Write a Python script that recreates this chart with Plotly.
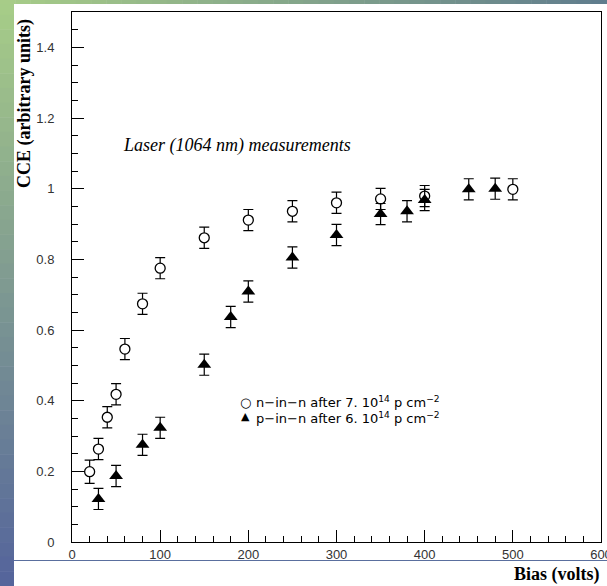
import plotly.graph_objects as go

# ---- data ----
nn_bias = [20, 30, 40, 50, 60, 80, 100, 150, 200, 250, 300, 350, 400, 500]
nn_cce = [0.199, 0.263, 0.353, 0.418, 0.546, 0.674, 0.775, 0.861, 0.911, 0.936, 0.960, 0.971, 0.979, 0.998]
nn_err = [0.033, 0.03, 0.03, 0.03, 0.03, 0.03, 0.03, 0.03, 0.03, 0.03, 0.03, 0.03, 0.03, 0.03]

pn_bias = [30, 50, 80, 100, 150, 180, 200, 250, 300, 350, 380, 400, 450, 480]
pn_cce = [0.122, 0.187, 0.275, 0.323, 0.502, 0.637, 0.709, 0.805, 0.869, 0.928, 0.936, 0.968, 0.998, 1.0]
pn_err = [0.03, 0.03, 0.03, 0.03, 0.03, 0.03, 0.03, 0.03, 0.03, 0.03, 0.03, 0.03, 0.03, 0.03]

x_ticks = [0, 100, 200, 300, 400, 500, 600]
y_ticks = [0, 0.2, 0.4, 0.6, 0.8, 1, 1.2, 1.4]
y_tick_labels = ["0", "0.2", "0.4", "0.6", "0.8", "1", "1.2", "1.4"]

legend_labels = [
    "n\u2212in\u2212n after 7. 10<sup>14</sup> p cm<sup>\u22122</sup>",
    "p\u2212in\u2212n after 6. 10<sup>14</sup> p cm<sup>\u22122</sup>",
]

# ---- geometry ----
W, H = 607, 586
L, R, T, B = 72, 601, 12, 542


def px(x):
    return (x - L) / (R - L)


def py(y):
    return (B - y) / (B - T)


fig = go.Figure()
fig.add_trace(go.Scatter(
    x=nn_bias, y=nn_cce, mode="markers",
    error_y=dict(type="data", array=nn_err, color="black", thickness=1.2, width=5),
    marker=dict(symbol="circle", size=10, color="white", line=dict(color="black", width=1.3)),
    showlegend=False,
))
fig.add_trace(go.Scatter(
    x=pn_bias, y=pn_cce, mode="markers",
    error_y=dict(type="data", array=pn_err, color="black", thickness=1.2, width=5),
    marker=dict(symbol="triangle-up", size=12, color="black", line=dict(width=0)),
    showlegend=False,
))

shapes = []
# left gradient strip
N = 40
top_c = (168, 206, 136)
bot_c = (84, 100, 156)
for i in range(N):
    y0 = H * i / N
    y1 = H * (i + 1) / N + 0.5
    t = (i + 0.5) / N
    c = tuple(int(top_c[k] + (bot_c[k] - top_c[k]) * t) for k in range(3))
    shapes.append(dict(type="rect", xref="paper", yref="paper",
                       x0=px(0), x1=px(14), y0=py(y0), y1=py(y1),
                       fillcolor="rgb(%d,%d,%d)" % c, line=dict(width=0), layer="below"))
# top gradient strip
left_c = (168, 206, 136)
right_c = (96, 124, 142)
for i in range(N):
    x0 = W * i / N
    x1 = W * (i + 1) / N + 0.5
    t = (i + 0.5) / N
    c = tuple(int(left_c[k] + (right_c[k] - left_c[k]) * t) for k in range(3))
    shapes.append(dict(type="rect", xref="paper", yref="paper",
                       x0=px(x0), x1=px(x1), y0=py(0), y1=py(4),
                       fillcolor="rgb(%d,%d,%d)" % c, line=dict(width=0), layer="below"))
# thin blue line near bottom
shapes.append(dict(type="line", xref="paper", yref="paper",
                   x0=px(14), x1=px(W), y0=py(560.5), y1=py(560.5),
                   line=dict(color="#5a6f9e", width=1), layer="above"))

annotations = [
    dict(text="<i>Laser (1064 nm) measurements</i>", xref="paper", yref="paper",
         x=px(237), y=py(145), showarrow=False, xanchor="center", yanchor="middle",
         font=dict(family="Liberation Serif", size=18, color="black")),
    dict(text="<b>CCE (arbitrary units)</b>", xref="paper", yref="paper",
         x=px(25), y=py(104), showarrow=False, textangle=-90,
         xanchor="center", yanchor="middle",
         font=dict(family="Liberation Serif", size=18, color="black")),
    dict(text="<b>Bias (volts)</b>", xref="paper", yref="paper",
         x=px(602), y=py(574), showarrow=False, xanchor="right", yanchor="middle",
         font=dict(family="Liberation Serif", size=18, color="black")),
    dict(text="\u25cb", xref="paper", yref="paper", x=px(245), y=py(402),
         showarrow=False, xanchor="center", yanchor="middle",
         font=dict(family="DejaVu Sans", size=13, color="black")),
    dict(text="\u25b2", xref="paper", yref="paper", x=px(245), y=py(417),
         showarrow=False, xanchor="center", yanchor="middle",
         font=dict(family="DejaVu Sans", size=11, color="black")),
    dict(text=legend_labels[0], xref="paper", yref="paper", x=px(254), y=py(402),
         showarrow=False, xanchor="left", yanchor="middle",
         font=dict(family="DejaVu Sans", size=13, color="black")),
    dict(text=legend_labels[1], xref="paper", yref="paper", x=px(254), y=py(418),
         showarrow=False, xanchor="left", yanchor="middle",
         font=dict(family="DejaVu Sans", size=13, color="black")),
]

fig.update_layout(
    width=W, height=H,
    margin=dict(l=L, r=W - R, t=T, b=H - B, pad=0, autoexpand=False),
    paper_bgcolor="white", plot_bgcolor="white",
    shapes=shapes, annotations=annotations,
    xaxis=dict(range=[0, 600], tickvals=x_ticks, ticks="inside", ticklen=12,
               tickcolor="black", tickwidth=1, showgrid=False, zeroline=False,
               showline=True, linecolor="black", linewidth=1, mirror=True,
               minor=dict(dtick=20, ticks="inside", ticklen=6, tickcolor="black", tickwidth=1, showgrid=False),
               tickfont=dict(family="Liberation Sans", size=13, color="#333"),
               ticklabelstandoff=0, ticklabeloverflow="allow", automargin=False),
    yaxis=dict(range=[0, 1.5], tickvals=y_ticks, ticktext=y_tick_labels, ticks="inside", ticklen=12,
               tickcolor="black", tickwidth=1, showgrid=False, zeroline=False,
               showline=True, linecolor="black", linewidth=1, mirror=True,
               minor=dict(dtick=0.05, ticks="inside", ticklen=6, tickcolor="black", tickwidth=1, showgrid=False),
               tickfont=dict(family="Liberation Sans", size=13, color="#333"),
               ticklabelstandoff=14, automargin=False),
)

fig.write_html("out.html")
